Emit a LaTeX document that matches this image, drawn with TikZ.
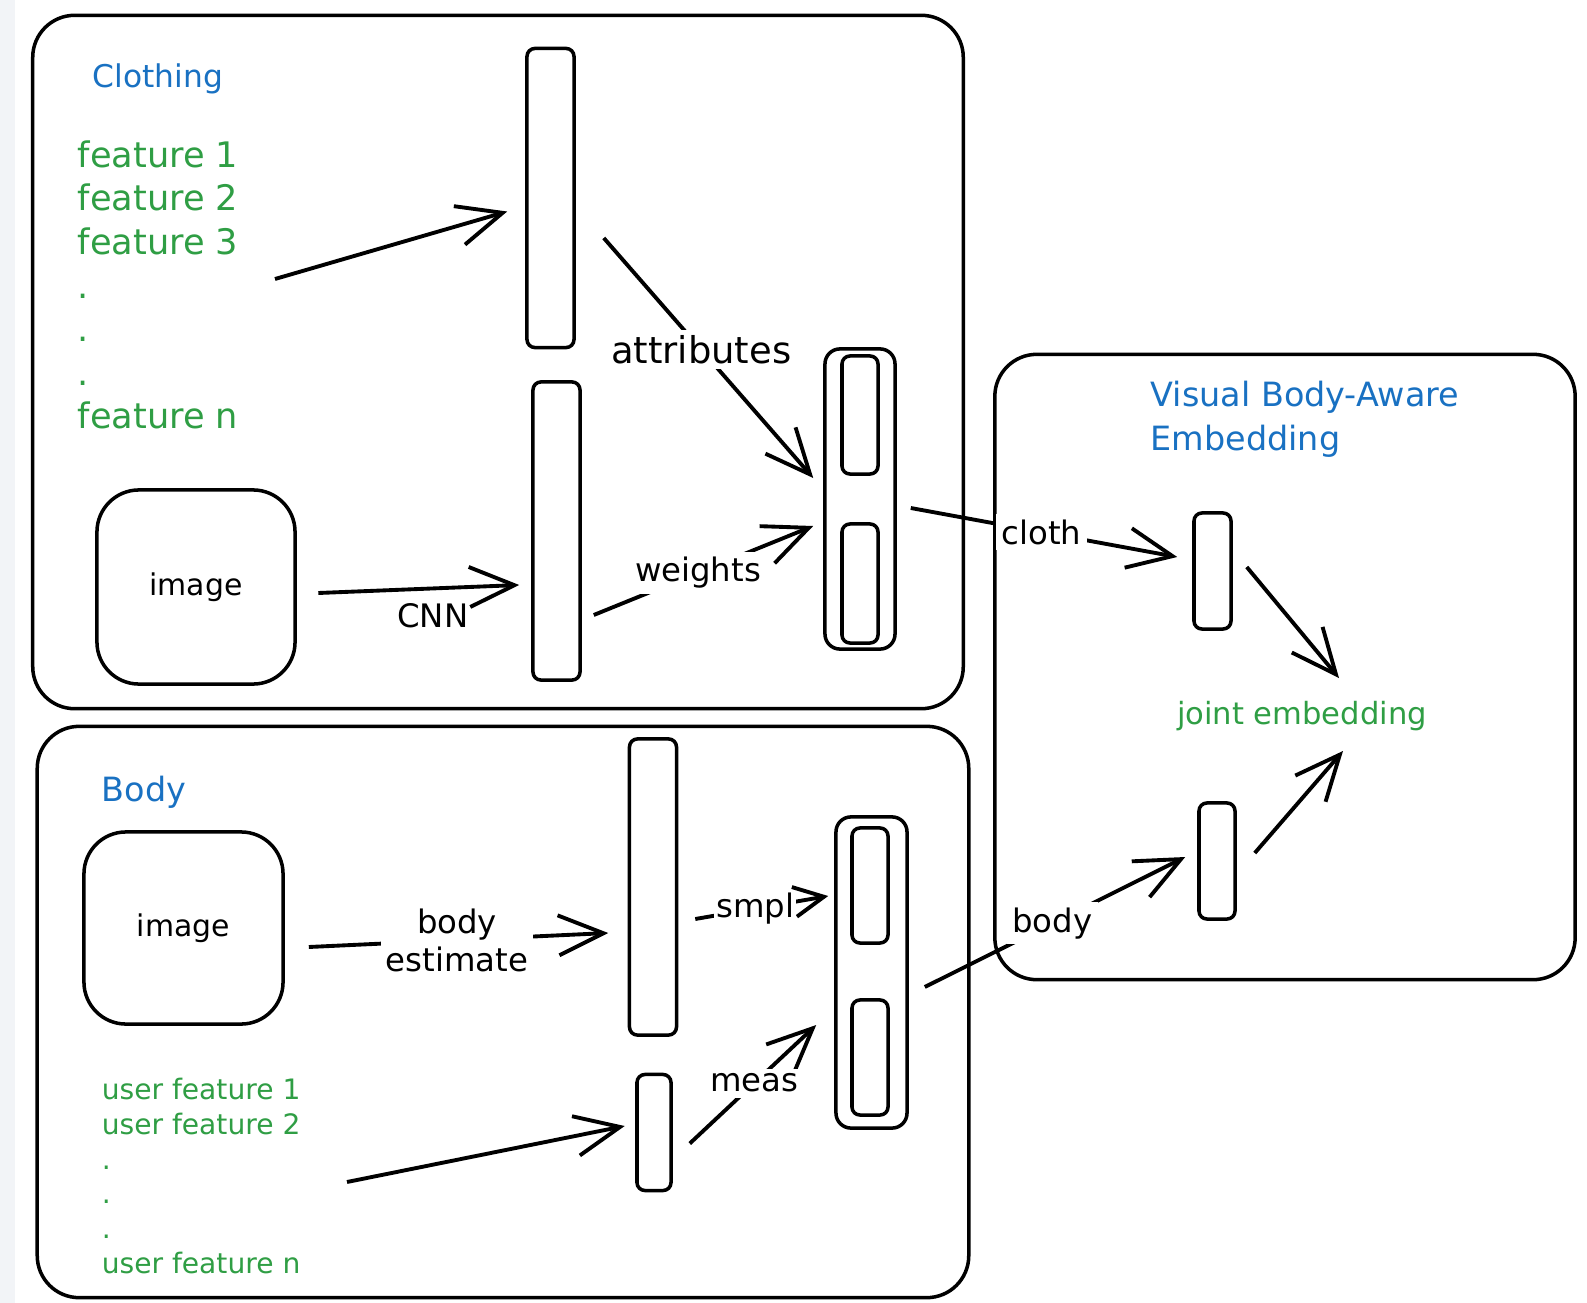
\documentclass[tikz,border=0pt]{standalone}
\usepackage{fontspec}
\setmainfont{DejaVu Sans}
\usetikzlibrary{arrows.meta, calc}
\definecolor{xblue}{HTML}{1971C2}
\definecolor{xgreen}{HTML}{2F9E44}
\definecolor{edgegray}{HTML}{F2F4F7}

\begin{document}
\begin{tikzpicture}[x=0.01cm, y=-0.01cm, line width=1pt,
  panel/.style={draw, rounded corners=0.42cm, inner sep=0pt},
  bar/.style={draw, rounded corners=0.08cm, inner sep=0pt},
  arr/.style={line width=1.1pt, -{Straight Barb[length=4.5mm, width=4mm]}},
  lbl/.style={fill=white, inner sep=1.5pt, font=\fontsize{9.2}{10.8}\selectfont},
  ttl/.style={text=xblue, anchor=west, inner sep=0pt, align=left, font=\fontsize{9.5}{12.5}\selectfont},
  feat/.style={text=xgreen, anchor=west, inner sep=0pt, align=left}]

\fill[white] (0,0) rectangle (1587,1303);
\fill[edgegray] (0,0) rectangle (15,1303);
\useasboundingbox (0,0) rectangle (1587,1303);

% panels
\node[panel, minimum width=9.30cm, minimum height=6.93cm] (clothpanel) at (498,362) {};
\node[panel, minimum width=9.31cm, minimum height=5.71cm] (bodypanel) at (503,1012) {};
\node[panel, minimum width=5.80cm, minimum height=6.25cm] (vbapanel) at (1285,667) {};

\node[ttl, font=\fontsize{8.9}{11}\selectfont] (clothtitle) at (91,79) {Clothing};
\node[ttl] (bodytitle) at (100,792) {Body};
\node[ttl] (vbatitle) at (1149,419) {Visual Body-Aware\\Embedding};

\node[feat, font=\fontsize{10}{12.4}\selectfont] (clothfeat) at (76,285) {feature 1\\feature 2\\feature 3\\.\\.\\.\\feature n};
\node[feat, font=\fontsize{8}{9.95}\selectfont] (userfeat) at (100,1176) {user feature 1\\user feature 2\\.\\.\\.\\user feature n};

\node[panel, minimum width=1.98cm, minimum height=1.94cm, font=\fontsize{8.5}{10}\selectfont] (clothimg) at (196,587) {image};
\node[panel, minimum width=1.99cm, minimum height=1.92cm, font=\fontsize{8.5}{10}\selectfont] (bodyimg) at (183.5,928) {image};

% vectors
\node[bar, minimum width=0.47cm, minimum height=2.99cm] (attrbar) at (550.5,198) {};
\node[bar, minimum width=0.47cm, minimum height=2.98cm] (cnnbar) at (556.5,531) {};
\node[bar, minimum width=0.70cm, minimum height=3.00cm, rounded corners=0.15cm] (clothcat) at (860,499) {};
\node[bar, minimum width=0.36cm, minimum height=1.18cm] (clothcattop) at (860,415) {};
\node[bar, minimum width=0.36cm, minimum height=1.19cm] (clothcatbot) at (860,583.5) {};
\node[bar, minimum width=0.47cm, minimum height=2.96cm] (smplbar) at (653,887) {};
\node[bar, minimum width=0.34cm, minimum height=1.16cm] (measbar) at (654,1132.5) {};
\node[bar, minimum width=0.71cm, minimum height=3.11cm, rounded corners=0.15cm] (bodycat) at (871.5,972.5) {};
\node[bar, minimum width=0.36cm, minimum height=1.15cm] (bodycattop) at (870,885.5) {};
\node[bar, minimum width=0.36cm, minimum height=1.15cm] (bodycatbot) at (870,1057.5) {};
\node[bar, minimum width=0.37cm, minimum height=1.16cm] (clothvec) at (1212.5,571) {};
\node[bar, minimum width=0.36cm, minimum height=1.16cm] (bodyvec) at (1217,861) {};
\node[text=xgreen, font=\fontsize{8.7}{10}\selectfont] (joint) at (1302,716) {joint embedding};

% clothing arrows
\draw[arr] ($(clothfeat.west)+(199,-6)$) -- ($(attrbar.west)+(-18,13.5)$);
\draw[arr] ($(clothimg.east)+(21.5,6)$) -- node[lbl, pos=0.57, below=0.08cm, fill=none] (cnnlbl) {CNN} ($(cnnbar.west)+(-12,54)$);
\draw[arr] ($(cnnbar.east)+(12,84)$) -- node[lbl, pos=0.475] (wlbl) {weights} ($(clothcat.west)+(-10,27)$);
\draw[arr] ($(attrbar.east)+(28,40)$) -- node[lbl, pos=0.465, font=\fontsize{10.5}{12}\selectfont] (albl) {attributes} ($(clothcat.west)+(-10,-21)$);
\draw[arr] ($(clothcat.east)+(14,9)$) -- node[lbl, pos=0.49] (clbl) {cloth} ($(clothvec.west)+(-15,-14)$);

% body arrows
\draw[arr] ($(bodyimg.east)+(24,19)$) -- node[lbl, pos=0.495, align=center] (belbl) {body\\estimate} ($(smplbar.west)+(-19.5,46)$);
\draw[arr, -{Straight Barb[length=3mm, width=3mm]}] ($(smplbar.east)+(17,32)$) -- node[lbl, pos=0.45, inner sep=0.5pt] (slbl) {smpl} ($(bodycat.west)+(-6,-76.5)$);
\draw[arr] ($(userfeat.west)+(247,6)$) -- ($(measbar.west)+(-10.5,-6.5)$);
\draw[arr] ($(measbar.east)+(17,11)$) -- node[lbl, pos=0.51] (mlbl) {meas} ($(bodycat.west)+(-18,52.5)$);
\draw[arr] ($(bodycat.east)+(16,14.5)$) -- node[lbl, pos=0.49] (blbl) {body} ($(bodyvec.west)+(-12,-4)$);

% joint
\draw[arr] ($(clothvec.east)+(14,-4)$) -- ($(joint)+(37,-38)$);
\draw[arr] ($(bodyvec.east)+(18,-8)$) -- ($(joint)+(41,35)$);
\end{tikzpicture}
\end{document}
